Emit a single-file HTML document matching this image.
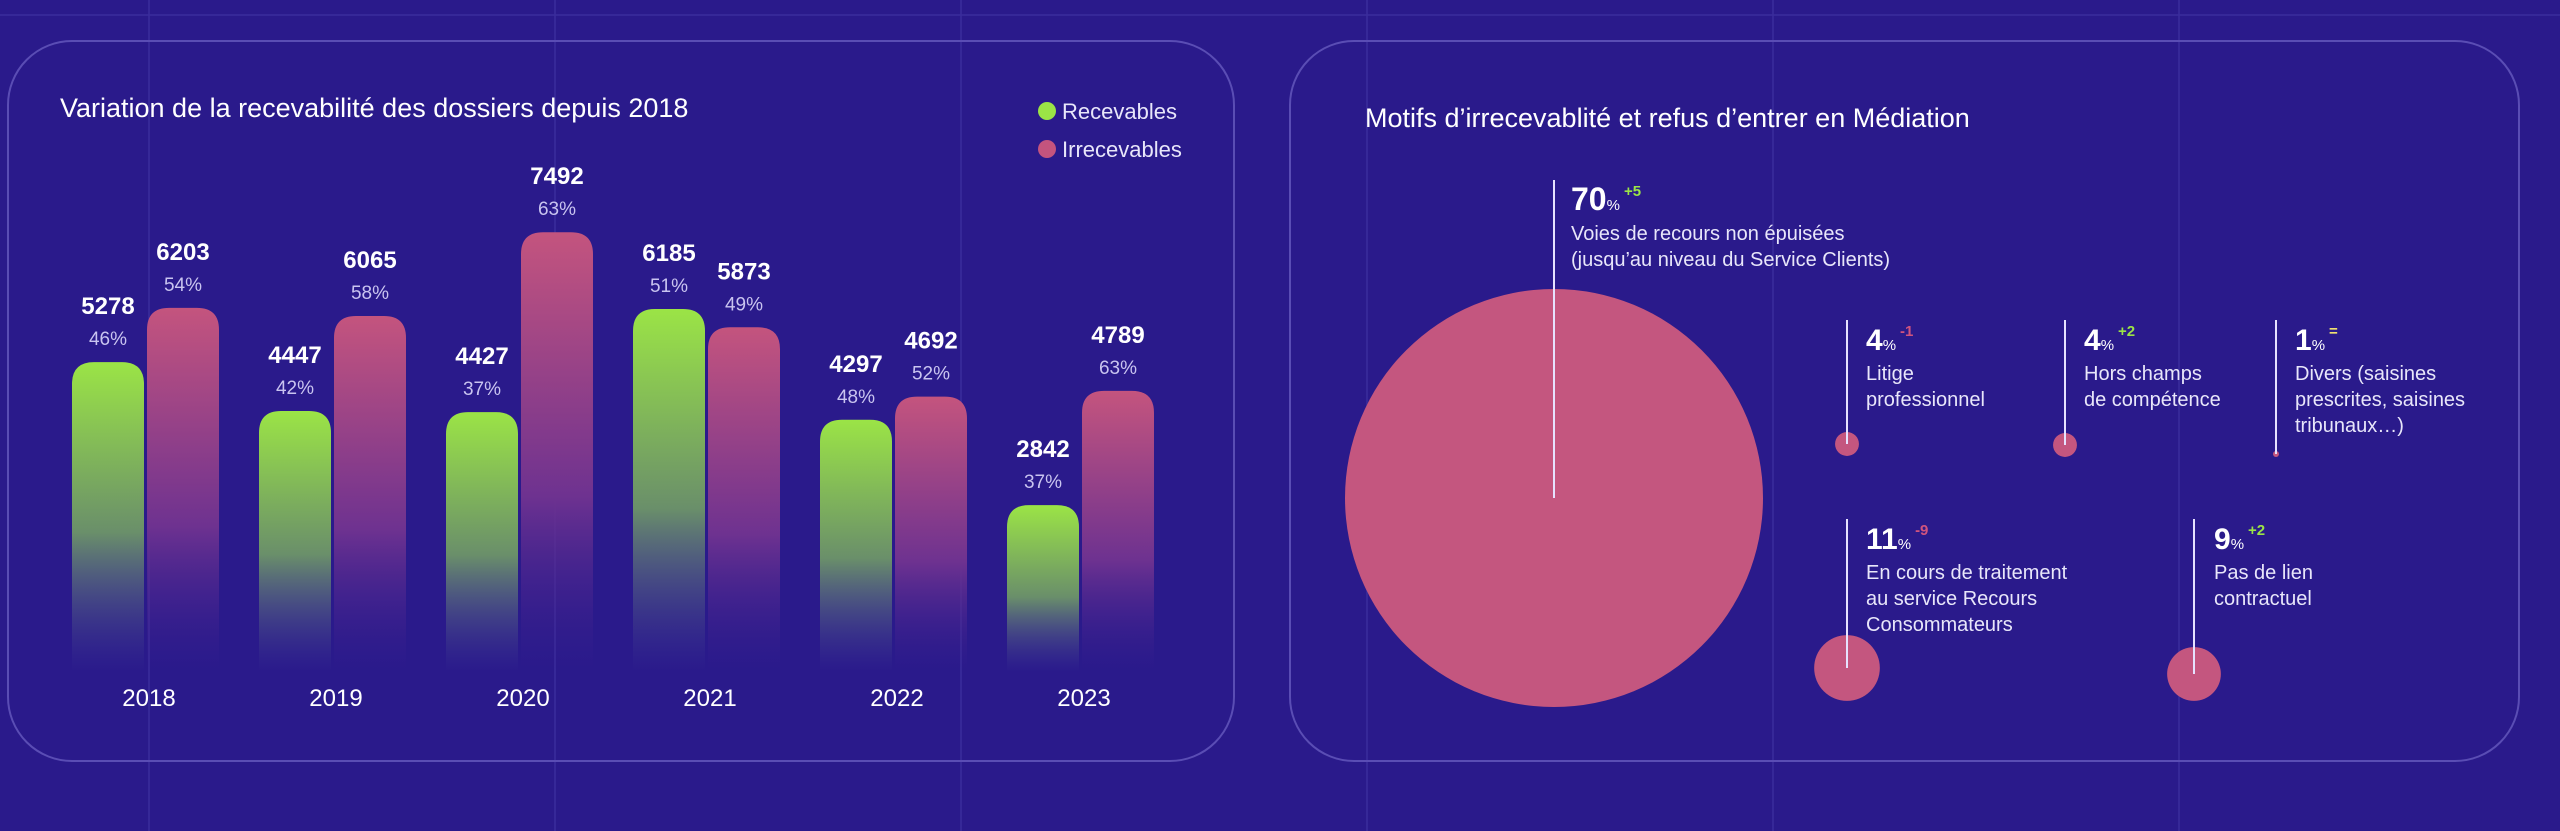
<!DOCTYPE html>
<html><head><meta charset="utf-8"><style>
body{margin:0;width:2560px;height:831px;overflow:hidden;background:#2a1a8b;font-family:"Liberation Sans",sans-serif}
svg{display:block}
</style></head><body>
<svg id="s" width="2560" height="831" xmlns="http://www.w3.org/2000/svg">
<defs>
<linearGradient id="gG" x1="0" y1="0" x2="0" y2="1"><stop offset="0" stop-color="#9be446"/><stop offset="0.55" stop-color="#6a8f6a"/><stop offset="1" stop-color="#4a4a96" stop-opacity="0"/></linearGradient>
<linearGradient id="gP" x1="0" y1="0" x2="0" y2="1"><stop offset="0" stop-color="#c4547e"/><stop offset="0.6" stop-color="#6e3290"/><stop offset="1" stop-color="#3a2090" stop-opacity="0"/></linearGradient>
</defs>
<g id="grid" stroke="#3a2c9c" stroke-width="1.5"></g>
<rect x="8" y="41" width="1226" height="720" rx="64" fill="none" stroke="#5a4db4" stroke-width="2"/>
<rect x="1290" y="41" width="1229" height="720" rx="64" fill="none" stroke="#5a4db4" stroke-width="2"/>
<text x="60" y="117" fill="#fff" font-size="27">Variation de la recevabilité des dossiers depuis 2018</text>
<g>
<circle cx="1047" cy="111" r="9" fill="#9be446"/>
<text x="1062" y="119" fill="#e8e6fa" font-size="22">Recevables</text>
<circle cx="1047" cy="149" r="9" fill="#c4547e"/>
<text x="1062" y="157" fill="#e8e6fa" font-size="22">Irrecevables</text>
</g>
<g id="bars"></g>
<text x="1365" y="127" fill="#fff" font-size="27">Motifs d’irrecevablité et refus d’entrer en Médiation</text>
<g id="bubbles"></g>
</svg>
<script>
const years=["2018","2019","2020","2021","2022","2023"];
const recevables=[5278,4447,4427,6185,4297,2842];
const irrecevables=[6203,6065,7492,5873,4692,4789];
const recPct=["46%","42%","37%","51%","48%","37%"];
const irrPct=["54%","58%","63%","49%","52%","63%"];

const motifPct=[70,4,4,1,11,9];
const motifDelta=["+5","-1","+2","=","-9","+2"];
const motifLabels=[["Voies de recours non épuisées","(jusqu’au niveau du Service Clients)"],["Litige","professionnel"],["Hors champs","de compétence"],["Divers (saisines","prescrites, saisines","tribunaux…)"],["En cours de traitement","au service Recours","Consommateurs"],["Pas de lien","contractuel"]];

const NS="http://www.w3.org/2000/svg";
function mk(t,a,p){const e=document.createElementNS(NS,t);for(const k in a)e.setAttribute(k,a[k]);p.appendChild(e);return e;}
const grid=document.getElementById('grid');
for(let i=0;i<6;i++){const l=mk('line',{x1:149+406*i,y1:0,x2:149+406*i,y2:831},grid);

}
const hl=mk('line',{x1:0,y1:15,x2:2560,y2:15},grid);



const base=672,k=0.0587,bw=72;
const xC=i=>149+187*i;
const yV=v=>base-k*v;
const bars=document.getElementById('bars');
function bar(x,v,pct,fill,name){
  const y=yV(v);
  const r=mk('path',{d:`M${x},${base} L${x},${y+22} Q${x},${y} ${x+22},${y} L${x+bw-22},${y} Q${x+bw},${y} ${x+bw},${y+22} L${x+bw},${base} Z`,fill:fill},bars);
  
  
  const t=mk('text',{x:x+bw/2,y:y-48,'text-anchor':'middle',fill:'#fff','font-size':24,'font-weight':'bold'},bars);t.textContent=v;
  
  
  const p=mk('text',{x:x+bw/2,y:y-17,'text-anchor':'middle',fill:'#c9c4f0','font-size':19},bars);p.textContent=pct;
  
  
}
years.forEach((yr,i)=>{
  const c=xC(i);
  bar(c-77,recevables[i],recPct[i],'url(#gG)','bar-recevables-'+yr);
  bar(c-2,irrecevables[i],irrPct[i],'url(#gP)','bar-irrecevables-'+yr);
  const t=mk('text',{x:c,y:706,'text-anchor':'middle',fill:'#fff','font-size':24},bars);t.textContent=yr;
  
  
});

const cx=[1554,1847,2065,2276,1847,2194];
const cy=[498,444,445,454,668,674];
const lineTop=[180,320,320,320,519,519];
const bub=document.getElementById('bubbles');
const rs=p=>209*p/70;
motifPct.forEach((p,i)=>{
  const c=mk('circle',{cx:cx[i],cy:cy[i],r:Math.max(rs(p),3),fill:'#c4567f'},bub);
  
  
  const l=mk('line',{x1:cx[i],y1:lineTop[i],x2:cx[i],y2:cy[i],stroke:'#e6e2ff','stroke-width':2},bub);
  
  
  const tx=cx[i]+(i==0?17:i==5?20:19);
  const ty=lineTop[i]+30;
  const t=mk('text',{x:tx,y:ty,fill:'#fff','font-size':i==0?32:30,'font-weight':'bold'},bub);
  
  
  const num=mk('tspan',{},t);num.textContent=p;
  const pc=mk('tspan',{'font-size':15,'font-weight':'normal'},t);pc.textContent='%';
  const d=mk('tspan',{dx:4,dy:-14,'font-size':15,fill:(motifDelta[i][0]=='-'?'#d0547e':motifDelta[i]=='='?'#f0e070':'#9be446')},t);d.textContent=motifDelta[i];
  motifLabels[i].forEach((s,j)=>{
    const q=mk('text',{x:tx,y:ty+30+26*j,fill:'#e8e6fa','font-size':20},bub);q.textContent=s;
    
    
  });
});
</script>
</body></html>
